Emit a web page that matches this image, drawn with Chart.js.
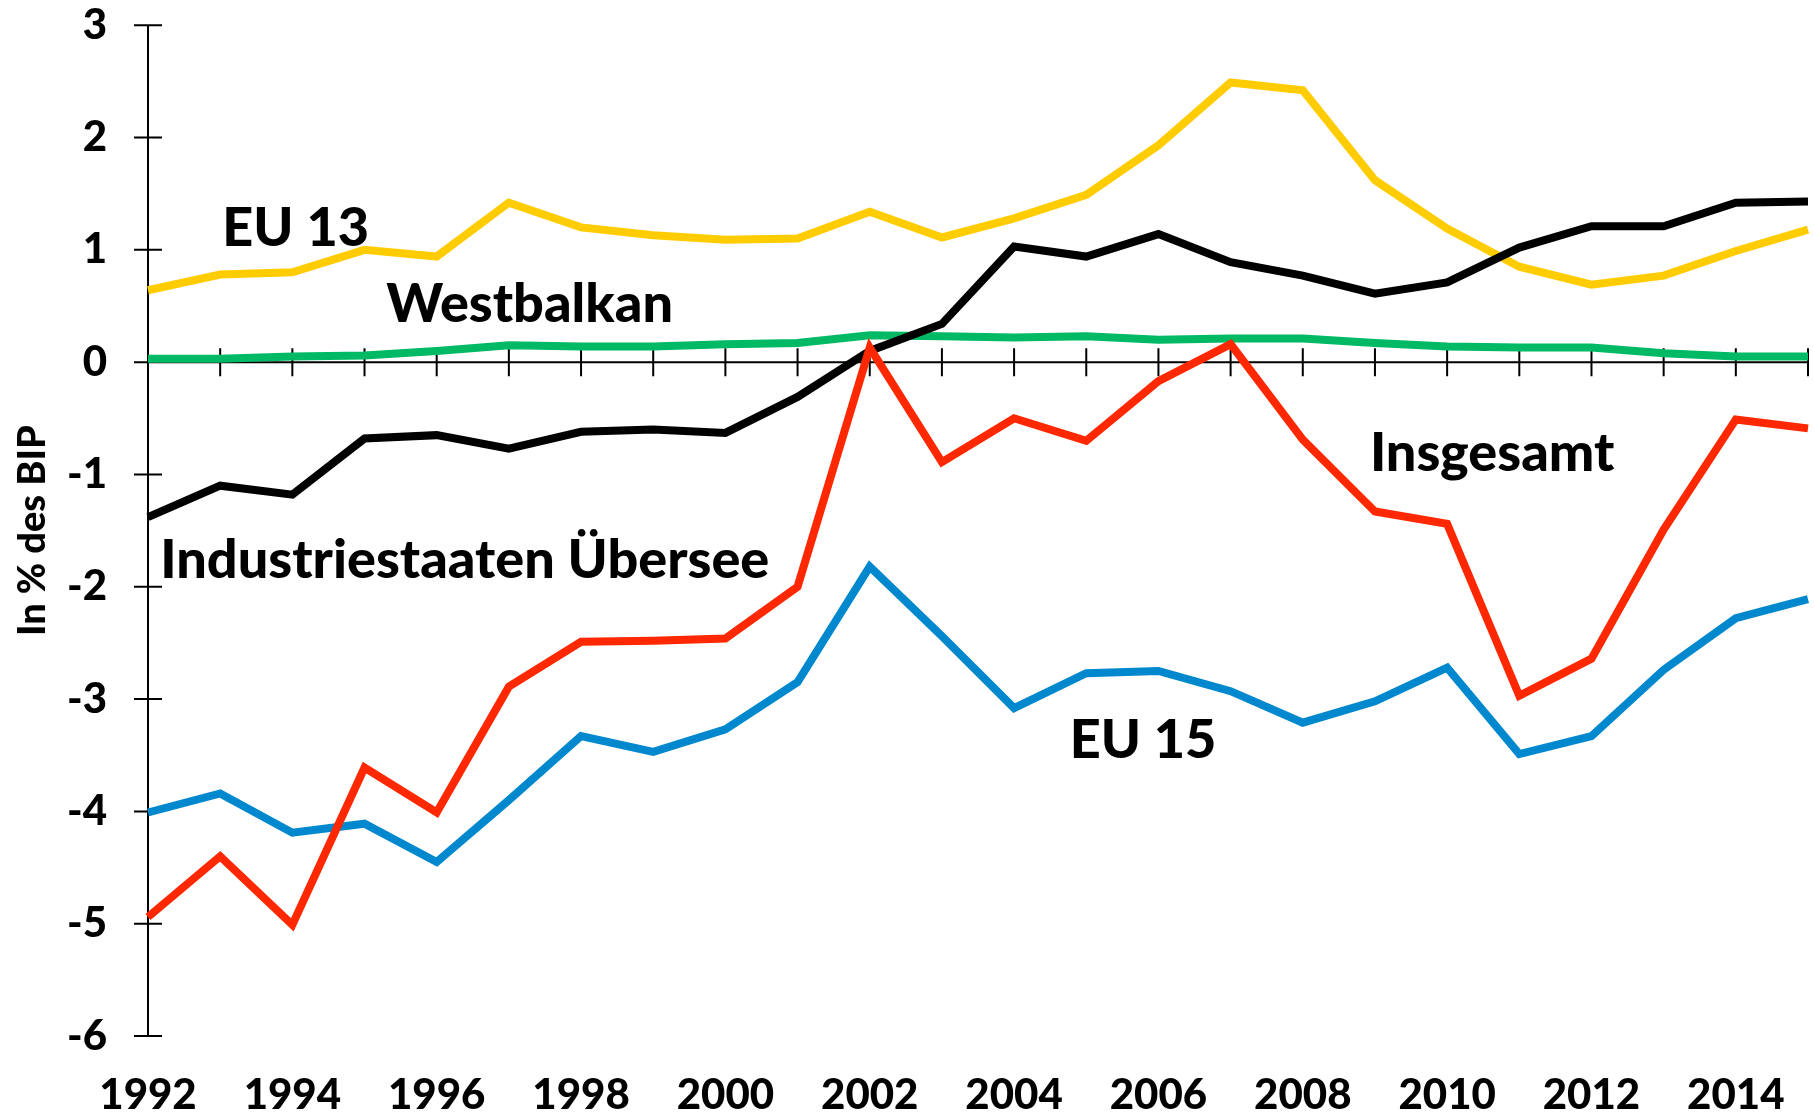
<!DOCTYPE html>
<html>
<head>
<meta charset="utf-8">
<script src="https://cdn.jsdelivr.net/npm/chart.js@4/dist/chart.umd.min.js"></script>
<style>
    html, body { margin: 0; padding: 0; background: #fff; }
</style>
</head>
<body>
<canvas id="chart" width="1814" height="1113"></canvas>
<script>
var years = ["1992","1993","1994","1995","1996","1997","1998","1999","2000","2001","2002","2003",
             "2004","2005","2006","2007","2008","2009","2010","2011","2012","2013","2014","2015"];

// In % des BIP
var insgesamt = [-4.94,-4.40,-5.01,-3.61,-4.01,-2.89,-2.49,-2.48,-2.46,-2.00,0.13,-0.89,
                 -0.50,-0.70,-0.17,0.16,-0.69,-1.33,-1.44,-2.97,-2.64,-1.49,-0.51,-0.59];
var eu15 = [-4.01,-3.84,-4.19,-4.11,-4.45,-3.90,-3.33,-3.47,-3.27,-2.85,-1.82,-2.44,
            -3.08,-2.77,-2.75,-2.93,-3.21,-3.02,-2.72,-3.49,-3.33,-2.74,-2.28,-2.11];
var industrie = [-1.38,-1.10,-1.18,-0.68,-0.65,-0.77,-0.62,-0.60,-0.63,-0.31,0.10,0.34,
                 1.03,0.94,1.14,0.89,0.77,0.61,0.71,1.02,1.21,1.21,1.42,1.43];
var eu13 = [0.64,0.78,0.80,1.00,0.94,1.42,1.20,1.13,1.09,1.10,1.34,1.11,
            1.28,1.49,1.93,2.49,2.42,1.62,1.19,0.85,0.69,0.77,0.99,1.18];
var westbalkan = [0.03,0.03,0.05,0.06,0.10,0.15,0.14,0.14,0.16,0.17,0.24,0.23,
                  0.22,0.23,0.20,0.21,0.21,0.17,0.14,0.13,0.13,0.08,0.05,0.05];

var yTicks = [3,2,1,0,-1,-2,-3,-4,-5,-6];

var FONT = "Lato, 'Open Sans', sans-serif";

// axis lines with crossing tick marks, drawn under the series
var axesPlugin = {
    id: "axes",
    beforeDatasetsDraw: function (chart) {
        var ctx = chart.ctx;
        var xs = chart.scales.x, ys = chart.scales.y;
        var x0 = xs.getPixelForValue(0);
        var xEnd = xs.getPixelForValue(years.length - 1);
        var y0 = ys.getPixelForValue(0);
        ctx.save();
        ctx.strokeStyle = "#000";
        ctx.lineWidth = 2;
        ctx.beginPath();
        ctx.moveTo(x0, ys.getPixelForValue(3));
        ctx.lineTo(x0, ys.getPixelForValue(-6));
        yTicks.forEach(function (v) {
            var p = ys.getPixelForValue(v);
            ctx.moveTo(x0 - 14, p);
            ctx.lineTo(x0 + 14, p);
        });
        ctx.moveTo(x0, y0);
        ctx.lineTo(xEnd, y0);
        years.forEach(function (yr, i) {
            var p = xs.getPixelForValue(i);
            ctx.moveTo(p, y0 - 14);
            ctx.lineTo(p, y0 + 14);
        });
        ctx.stroke();
        ctx.restore();
    }
};

// series names written next to the lines
var seriesLabels = [
    {text: "EU 13", x: 1.03, y: 1.21},
    {text: "Westbalkan", x: 3.30, y: 0.53},
    {text: "Industriestaaten Übersee", x: 0.17, y: -1.75},
    {text: "Insgesamt", x: 16.93, y: -0.80},
    {text: "EU 15", x: 12.77, y: -3.35}
];

var labelPlugin = {
    id: "seriesLabels",
    afterDatasetsDraw: function (chart) {
        var ctx = chart.ctx;
        var xs = chart.scales.x, ys = chart.scales.y;
        ctx.save();
        ctx.fillStyle = "#000";
        ctx.font = "900 54px " + FONT;
        ctx.textAlign = "left";
        ctx.textBaseline = "middle";
        seriesLabels.forEach(function (l) {
            ctx.fillText(l.text, xs.getPixelForValue(l.x), ys.getPixelForValue(l.y) + 2);
        });
        ctx.restore();
    }
};

var line = function (label, data, color) {
    return {
        label: label,
        data: data,
        borderColor: color,
        backgroundColor: color,
        borderWidth: 8,
        pointRadius: 0,
        tension: 0,
        fill: false
    };
};

var ctx = document.getElementById("chart").getContext("2d");
new Chart(ctx, {
    type: "line",
    data: {
        labels: years,
        datasets: [
            line("Insgesamt", insgesamt, "#FF2800"),
            line("EU 15", eu15, "#0088CE"),
            line("Industriestaaten Übersee", industrie, "#000000"),
            line("EU 13", eu13, "#FFCC00"),
            line("Westbalkan", westbalkan, "#00B964")
        ]
    },
    options: {
        responsive: false,
        animation: false,
        devicePixelRatio: 1,
        layout: { padding: { top: 24, right: 6, left: 0, bottom: 0 } },
        plugins: {
            legend: { display: false },
            tooltip: { enabled: false }
        },
        scales: {
            x: {
                grid: { display: true, drawOnChartArea: false, drawTicks: true, tickLength: 34, color: "rgba(0,0,0,0)" },
                border: { display: false },
                ticks: {
                    autoSkip: false,
                    maxRotation: 0,
                    padding: 0,
                    color: "#000",
                    font: { family: FONT, size: 42, weight: "900" },
                    callback: function (val, i) {
                        return i % 2 === 0 ? years[i] : "";
                    }
                },
                afterFit: function (s) { s.height = 77; }
            },
            y: {
                min: -6,
                max: 3,
                grid: { display: true, drawOnChartArea: false, drawTicks: true, tickLength: 41, color: "rgba(0,0,0,0)" },
                border: { display: false },
                ticks: {
                    stepSize: 1,
                    padding: 0,
                    color: "#000",
                    font: { family: FONT, size: 42, weight: "900" }
                },
                title: {
                    display: true,
                    text: "In % des BIP",
                    color: "#000",
                    font: { family: FONT, size: 38, weight: "900" },
                    padding: { top: 10, bottom: 0 }
                },
                afterFit: function (s) { s.width = 148; }
            }
        }
    },
    plugins: [axesPlugin, labelPlugin]
});
</script>
</body>
</html>
